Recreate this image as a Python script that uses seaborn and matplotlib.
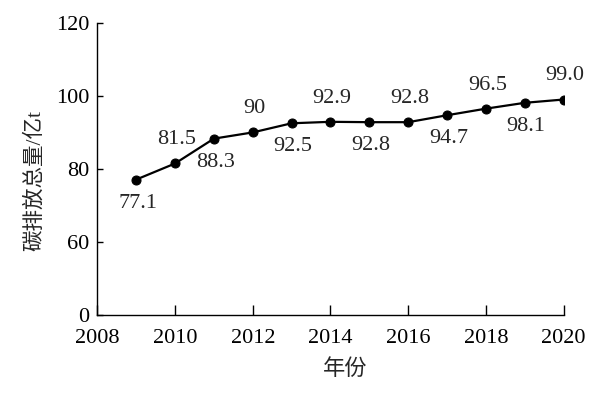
import pandas as pd
import matplotlib.pyplot as plt
import seaborn as sns

# Données : émissions de carbone (100 Mt)
years = [2009, 2010, 2011, 2012, 2013, 2014, 2015, 2016, 2017, 2018, 2019, 2020]
emissions = [77.1, 81.5, 88.3, 90, 92.5, 92.9, 92.8, 92.8, 94.7, 96.5, 98.1, 99.0]
labels = ["77.1", "81.5", "88.3", "90", "92.5", "92.9", "92.8", "92.8", "94.7", "96.5", "98.1", "99.0"]
# -1 = étiquette en dessous, 1 = au-dessus
label_side = [-1, 1, -1, 1, -1, 1, -1, 1, -1, 1, -1, 1]

x_ticks = [2008, 2010, 2012, 2014, 2016, 2018, 2020]
y_ticks = [40, 60, 80, 100, 120]
y_tick_labels = ["0", "60", "80", "100", "120"]  # axe coupé : 40 affiché comme 0

df = pd.DataFrame({"year": years, "value": emissions})

sns.set_style("ticks")
plt.rcParams['font.family'] = ['Liberation Serif', 'Noto Sans CJK SC']
plt.rcParams['axes.unicode_minus'] = False

fig = plt.figure(figsize=(6.14, 3.99), dpi=100)
ax = fig.add_axes([0.1585, 0.21, 0.7595, 0.733])

sns.lineplot(data=df, x="year", y="value", ax=ax, color="black", linewidth=1.6,
             marker="o", markersize=6.5, markeredgecolor="black", markerfacecolor="black")

for x, y, lab, side in zip(years, emissions, labels, label_side):
    ax.annotate(lab, (x, y), xytext=(1, 17 * side), textcoords="offset points",
                ha="center", va="center", fontsize=16, fontfamily="Liberation Serif")

ax.set_xlim(2008, 2020)
ax.set_ylim(40, 120)
ax.set_xticks(x_ticks)
ax.set_xticklabels([str(t) for t in x_ticks])
ax.set_yticks(y_ticks)
ax.set_yticklabels(y_tick_labels)
ax.tick_params(axis="x", direction="in", length=7, width=1, labelsize=16, pad=10, colors="black")
ax.tick_params(axis="y", direction="in", length=4, width=1, labelsize=16, pad=6, colors="black")

for side in ["top", "right"]:
    ax.spines[side].set_visible(False)
for side in ["left", "bottom"]:
    ax.spines[side].set_color("black")
    ax.spines[side].set_linewidth(1)

ax.set_xlabel("年份", fontsize=16)
ax.set_ylabel("碳排放总量/亿t", fontsize=15.5)
ax.xaxis.set_label_coords(0.531, -0.15)
ax.yaxis.set_label_coords(-0.112, 0.46)

plt.savefig("out.png", dpi=100)
plt.close()
